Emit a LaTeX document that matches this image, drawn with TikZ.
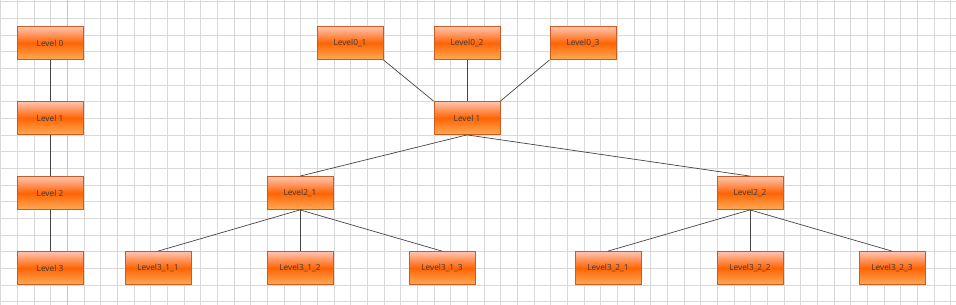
\documentclass[tikz,border=0pt]{standalone}
\usepackage{fontspec}
\setmainfont{Open Sans}
\definecolor{gridc}{HTML}{D9D9D9}
\definecolor{guidec}{HTML}{A8CCF0}
\definecolor{boxtop}{HTML}{FFC4B0}
\definecolor{boxmid}{HTML}{FF6404}
\definecolor{boxbot}{HTML}{FFAA55}
\definecolor{boxedge}{HTML}{C85C24}
\definecolor{txtc}{HTML}{3A3A3A}
\definecolor{linec}{HTML}{454545}
\begin{document}
\begin{tikzpicture}[x=1pt,y=-1pt,
  box/.style={rectangle, draw=boxedge, line width=0.8pt,
    top color=boxtop, bottom color=boxbot, middle color=boxmid,
    minimum width=66pt, minimum height=33pt, inner sep=0pt,
    font=\fontsize{8.3}{10}\selectfont, text=txtc},
  link/.style={draw=linec, line width=0.7pt}]
\useasboundingbox (0,0) rectangle (956,305);
\fill[white] (0,0) rectangle (956,305);
% grid
\foreach \i in {0,...,57} {
  \draw[gridc, line width=0.8pt] ({0.667+16.667*\i},0) -- ({0.667+16.667*\i},305);
}
\foreach \j in {0,...,18} {
  \draw[gridc, line width=0.8pt] (0,{1.667+16.667*\j}) -- (956,{1.667+16.667*\j});
}
\draw[guidec, line width=0.8pt] (67.3,0) -- (67.3,305);
% left chain
\node[box] (L0) at (50,43) {Level 0};
\node[box] (L1) at (50,118) {Level 1};
\node[box] (L2) at (50,193) {Level 2};
\node[box] (L3) at (50,268) {Level 3};
% tree
\node[box] (a01) at (350,43) {Level0\_1};
\node[box] (a02) at (467,43) {Level0\_2};
\node[box] (a03) at (583,43) {Level0\_3};
\node[box] (b1) at (467,118) {Level 1};
\node[box] (c21) at (300,193) {Level2\_1};
\node[box] (c22) at (750,193) {Level2\_2};
\node[box] (d311) at (158,268) {Level3\_1\_1};
\node[box] (d312) at (300,268) {Level3\_1\_2};
\node[box] (d313) at (442,268) {Level3\_1\_3};
\node[box] (d321) at (608,268) {Level3\_2\_1};
\node[box] (d322) at (750,268) {Level3\_2\_2};
\node[box] (d323) at (892,268) {Level3\_2\_3};
% connectors
\draw[link] (L0.south) -- (L1.north);
\draw[link] (L1.south) -- (L2.north);
\draw[link] (L2.south) -- (L3.north);
\draw[link] (a01.south east) -- (b1.north west);
\draw[link] (a02.south) -- (b1.north);
\draw[link] (a03.south west) -- (b1.north east);
\draw[link] (b1.south) -- (c21.north);
\draw[link] (b1.south) -- (c22.north);
\draw[link] (c21.south) -- (d311.north);
\draw[link] (c21.south) -- (d312.north);
\draw[link] (c21.south) -- (d313.north);
\draw[link] (c22.south) -- (d321.north);
\draw[link] (c22.south) -- (d322.north);
\draw[link] (c22.south) -- (d323.north);
\end{tikzpicture}
\end{document}
